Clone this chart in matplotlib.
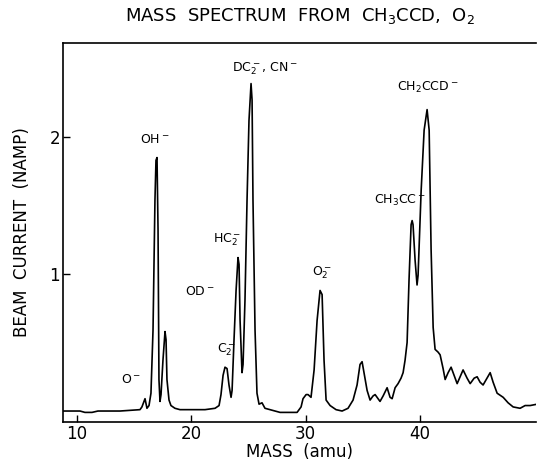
import numpy as np
import matplotlib
matplotlib.use("Agg")
import matplotlib.pyplot as plt

# trace: mass (amu) and beam current (namp)
mass = [8.76, 10.25, 10.68, 11.30, 11.82, 13.75, 15.50, 15.67, 15.94, 16.11,
        16.29, 16.46, 16.64, 16.81, 16.90, 16.99, 17.08, 17.16, 17.25, 17.34,
        17.51, 17.69, 17.78, 17.86, 18.04, 18.21, 18.56, 19.00, 19.88, 21.19,
        22.07, 22.42, 22.59, 22.77, 22.94, 23.12, 23.29, 23.47, 23.56, 23.73,
        23.91, 24.08, 24.17, 24.26, 24.43, 24.52, 24.69, 24.87, 25.04, 25.22,
        25.31, 25.39, 25.57, 25.74, 25.92, 26.18, 26.44, 26.88, 27.76, 29.25,
        29.60, 29.77, 30.04, 30.21, 30.47, 30.74, 31.00, 31.26, 31.44, 31.61,
        31.79, 32.14, 32.66, 33.19, 33.71, 34.15, 34.50, 34.76, 34.94, 35.11,
        35.38, 35.64, 35.90, 36.08, 36.34, 36.51, 36.78, 37.13, 37.39, 37.57,
        37.83, 38.09, 38.35, 38.53, 38.70, 38.88, 39.05, 39.23, 39.32, 39.40,
        39.58, 39.75, 39.84, 40.11, 40.37, 40.63, 40.81, 40.98, 41.16, 41.33,
        41.59, 41.77, 42.03, 42.21, 42.47, 42.73, 42.99, 43.26, 43.52, 43.78,
        44.13, 44.40, 44.75, 45.01, 45.27, 45.53, 45.88, 46.15, 46.41, 46.76,
        47.29, 47.72, 48.16, 48.77, 49.21, 49.65, 50.26]
current = [0.00, 0.00, -0.01, -0.01, 0.00, 0.00, 0.01, 0.03, 0.09, 0.02,
           0.04, 0.13, 0.59, 1.54, 1.83, 1.85, 1.32, 0.23, 0.07, 0.12,
           0.37, 0.58, 0.52, 0.23, 0.08, 0.04, 0.02, 0.01, 0.01, 0.01,
           0.02, 0.04, 0.12, 0.26, 0.32, 0.31, 0.19, 0.10, 0.15, 0.52,
           0.88, 1.12, 1.07, 0.66, 0.28, 0.34, 0.81, 1.54, 2.12, 2.39,
           2.27, 1.54, 0.59, 0.13, 0.05, 0.06, 0.02, 0.01, -0.01, -0.01,
           0.03, 0.09, 0.12, 0.12, 0.10, 0.30, 0.66, 0.88, 0.85, 0.37,
           0.08, 0.04, 0.01, 0.00, 0.02, 0.08, 0.19, 0.34, 0.36, 0.28,
           0.15, 0.08, 0.11, 0.12, 0.09, 0.07, 0.11, 0.17, 0.10, 0.09,
           0.17, 0.20, 0.24, 0.28, 0.37, 0.50, 0.96, 1.36, 1.39, 1.36,
           1.10, 0.92, 0.99, 1.61, 2.05, 2.20, 2.05, 1.18, 0.61, 0.45,
           0.43, 0.41, 0.31, 0.23, 0.28, 0.32, 0.26, 0.20, 0.25, 0.30,
           0.24, 0.20, 0.24, 0.25, 0.21, 0.19, 0.24, 0.28, 0.21, 0.13,
           0.10, 0.06, 0.03, 0.02, 0.04, 0.04, 0.05]

x_ticks = [10, 20, 30, 40]
y_ticks = [1, 2]

fig = plt.figure(figsize=(5.37, 4.65), dpi=100)
ax = fig.add_axes([0.1173, 0.0925, 0.881, 0.815])
ax.plot(mass, current, color="black", lw=1.2)

ax.set_xlim(8.76, 50.17)
ax.set_ylim(-0.08, 2.686)
ax.set_xticks(x_ticks)
ax.set_yticks(y_ticks)
ax.tick_params(direction="in", length=5, labelsize=12, width=1, pad=2)
ax.spines["right"].set_visible(False)
for s in ["left", "bottom", "top"]:
    ax.spines[s].set_linewidth(1.2)

ax.set_xlabel("MASS  (amu)", fontsize=12)
ax.xaxis.set_label_coords(0.5, -0.055)
ax.set_ylabel("BEAM  CURRENT  (NAMP)", fontsize=12)
ax.yaxis.set_label_coords(-0.068, 0.5)
ax.set_title("MASS  SPECTRUM  FROM  CH$_3$CCD,  O$_2$", fontsize=13, pad=16)

# peak labels
kw = dict(fontsize=9, ha="center", va="center")
ax.text(16.81, 1.98, "OH$^-$", **kw)
ax.text(20.75, 0.87, "OD$^-$", **kw)
ax.text(14.71, 0.23, "O$^-$", **kw)
ax.text(23.03, 0.45, "C$_2^-$", **kw)
ax.text(23.12, 1.25, "HC$_2^-$", **kw)
ax.text(26.44, 2.50, "DC$_2^-$, CN$^-$", **kw)
ax.text(31.44, 1.01, "O$_2^-$", **kw)
ax.text(38.27, 1.54, "CH$_3$CC$^-$", **kw)
ax.text(40.72, 2.36, "CH$_2$CCD$^-$", **kw)

fig.savefig("out.png", dpi=100)
